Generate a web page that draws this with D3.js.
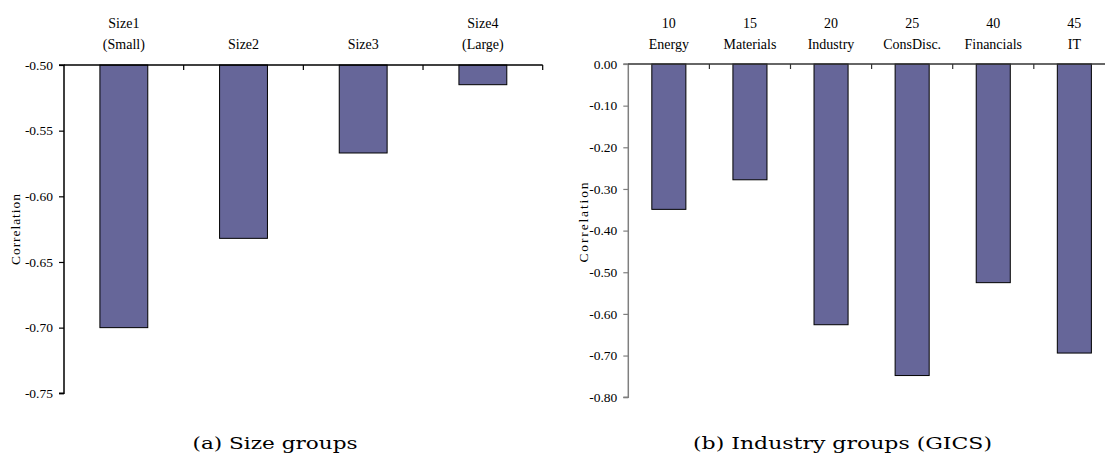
<!DOCTYPE html>
<html>
<head>
<meta charset="utf-8">
<script src="https://cdn.jsdelivr.net/npm/d3@7"></script>
<style>
  html, body { margin: 0; padding: 0; background: #fff; }
  svg { display: block; }
  text { font-family: "Liberation Serif", "Times New Roman", serif; fill: #000; }
  .caption { font-family: "DejaVu Serif", serif; font-size: 17px; }
</style>
</head>
<body>
<svg id="chart" width="1105" height="458"></svg>
<script>
// Panel (a): correlation by firm size group
const sizeLabels = [["Size1", "(Small)"], ["Size2"], ["Size3"], ["Size4", "(Large)"]];
const sizeValues = [-0.700, -0.632, -0.567, -0.515];
const sizeTicks = [-0.50, -0.55, -0.60, -0.65, -0.70, -0.75];

// Panel (b): correlation by GICS industry group
const industryLabels = [["10", "Energy"], ["15", "Materials"], ["20", "Industry"],
                        ["25", "ConsDisc."], ["40", "Financials"], ["45", "IT"]];
const industryValues = [-0.349, -0.278, -0.626, -0.748, -0.525, -0.694];
const industryTicks = [0.00, -0.10, -0.20, -0.30, -0.40, -0.50, -0.60, -0.70, -0.80];

const svg = d3.select("#chart");
const barFill = "#666699";

function panel(opts) {
  const g = svg.append("g");
  const x = d3.scaleBand()
    .domain(opts.labels.map((d, i) => i))
    .range([opts.left, opts.right])
    .paddingInner(0).paddingOuter(0);
  const y = d3.scaleLinear().domain(opts.domain).range([opts.top, opts.bottom]);
  const base = opts.domain[0];
  const bw = x.bandwidth() * opts.barRatio;

  // bars hang down from the top axis
  g.selectAll("rect.bar")
    .data(opts.values)
    .join("rect")
    .attr("class", "bar")
    .attr("x", (d, i) => x(i) + (x.bandwidth() - bw) / 2)
    .attr("y", y(base))
    .attr("width", bw)
    .attr("height", d => y(d) - y(base))
    .attr("fill", barFill)
    .attr("stroke", "#000")
    .attr("stroke-width", 1);

  // y axis
  const yAxis = d3.axisLeft(y)
    .tickValues(opts.ticks)
    .tickFormat(d => d.toFixed(2))
    .tickSize(5)
    .tickPadding(6);
  const ya = g.append("g")
    .attr("transform", `translate(${opts.left},0)`)
    .call(yAxis);
  ya.select(".domain").attr("stroke", opts.yAxisColor).attr("stroke-width", 1.5)
    .attr("d", `M-5,${opts.top}H0V${opts.bottom}H-5`);
  ya.selectAll(".tick line").attr("stroke", opts.yAxisColor).attr("stroke-width", 1.2);
  ya.selectAll(".tick text")
    .style("font-family", '"Liberation Serif", serif')
    .style("font-size", "13.5px")
    .attr("fill", "#000");

  // top category axis: tick marks at band boundaries, pointing into the plot
  const edges = opts.labels.map((d, i) => x(i) + x.bandwidth());
  g.append("line")
    .attr("x1", opts.left).attr("x2", opts.right)
    .attr("y1", y(base)).attr("y2", y(base))
    .attr("stroke", opts.xAxisColor).attr("stroke-width", 1.5);
  g.selectAll("line.xtick")
    .data(edges)
    .join("line")
    .attr("class", "xtick")
    .attr("x1", d => d).attr("x2", d => d)
    .attr("y1", y(base)).attr("y2", y(base) + 5)
    .attr("stroke", opts.xAxisColor).attr("stroke-width", 1.2);

  // category labels above the axis (bottom line aligned)
  const lbl = g.selectAll("text.cat")
    .data(opts.labels)
    .join("text")
    .attr("class", "cat")
    .attr("text-anchor", "middle")
    .style("font-size", "14px");
  lbl.each(function(lines, i) {
    const t = d3.select(this);
    const cx = x(i) + x.bandwidth() / 2;
    lines.forEach((s, k) => {
      t.append("tspan")
        .attr("x", cx)
        .attr("y", opts.labelBaseline - (lines.length - 1 - k) * 21)
        .text(s);
    });
  });

  // axis title
  g.append("text")
    .attr("transform", `translate(${opts.titleX},${opts.titleY}) rotate(-90)`)
    .attr("text-anchor", "middle")
    .attr("textLength", opts.titleLength)
    .attr("lengthAdjust", "spacing")
    .style("font-size", "13.5px")
    .text("Correlation");

  // panel caption
  g.append("text")
    .attr("class", "caption")
    .attr("x", opts.captionX - opts.captionLength / 2)
    .attr("y", 449)
    .attr("textLength", opts.captionLength)
    .attr("lengthAdjust", "spacingAndGlyphs")
    .text(opts.caption);
}

panel({
  labels: sizeLabels, values: sizeValues, ticks: sizeTicks,
  domain: [-0.50, -0.75], left: 64, right: 542.7, top: 65, bottom: 393.3,
  barRatio: 0.4, yAxisColor: "#000", xAxisColor: "#000",
  labelBaseline: 48.5, titleX: 20, titleY: 229.5, titleLength: 71,
  caption: "(a)  Size groups", captionX: 275, captionLength: 165
});

panel({
  labels: industryLabels, values: industryValues, ticks: industryTicks,
  domain: [0.00, -0.80], left: 628.3, right: 628.3 + 6 * 81.1, top: 64, bottom: 397.2,
  barRatio: 0.42, yAxisColor: "#7f7f7f", xAxisColor: "#333",
  labelBaseline: 48.5, titleX: 588, titleY: 222.5, titleLength: 80,
  caption: "(b)  Industry groups (GICS)", captionX: 842.5, captionLength: 299
});
</script>
</body>
</html>
